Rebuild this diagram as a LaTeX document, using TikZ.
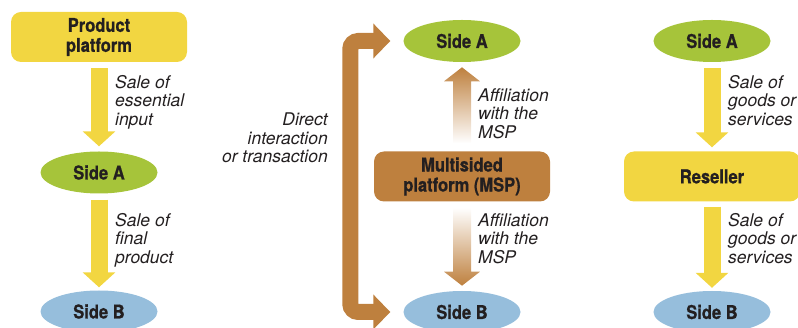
\documentclass[tikz,border=0pt]{standalone}
\usepackage{fontspec}
\setmainfont{TeX Gyre Heros}
\newfontfamily\boldcond{TeX Gyre Heros}[FakeStretch=0.87, BoldFeatures={FakeBold=0.8}]
\usetikzlibrary{arrows.meta,shapes.geometric}
\definecolor{ylw}{HTML}{F2D641}
\definecolor{grn}{HTML}{A6C43A}
\definecolor{blu}{HTML}{96BEDC}
\definecolor{brn}{HTML}{BE803E}
\definecolor{ink}{HTML}{231F20}
\begin{document}
\begin{tikzpicture}[x=1pt,y=-1pt,
  box/.style={rectangle, rounded corners=10pt, fill=ylw, minimum width=176pt, minimum height=50pt, inner sep=0pt, align=center, font=\boldcond\bfseries\fontsize{19}{20}\selectfont, text=ink},
  sidea/.style={ellipse, fill=grn, minimum width=117pt, minimum height=42pt, inner sep=0pt, font=\boldcond\bfseries\fontsize{19}{20}\selectfont, text=ink},
  sideb/.style={sidea, fill=blu},
  lbl/.style={anchor=north west, inner sep=0pt, align=left, font=\itshape\fontsize{17.5}{18.5}\selectfont, text=ink},
  yarrow/.style={draw=ylw, line width=17pt, -{Triangle[width=32pt,length=15pt]}},
  barrow/.style={draw=brn, line width=16pt, rounded corners=8pt, {Triangle[width=34pt,length=17pt]}-{Triangle[width=34pt,length=17pt]}},
]
\useasboundingbox (0,0) rectangle (798,328);
\clip (0,0) rectangle (798,328);

% left column
\node[box] (pp) at (99,37) {Product\\platform};
\node[sidea] (la) at (99,172.5) {Side A};
\node[sideb] (lb) at (99,311.5) {Side B};
\draw[yarrow] ([yshift=-6pt]pp.south) -- ([yshift=5pt]la.north);
\draw[yarrow] ([yshift=-6pt]la.south) -- ([yshift=3pt]lb.north);
\node[lbl] (l1) at (115,75) {Sale of\\essential\\input};
\node[lbl] (l2) at (115,213) {Sale of\\final\\product};

% middle column
\node[sidea] (ma) at (462,41) {Side A};
\node[box, fill=brn] (msp) at (462,176.5) {Multisided\\platform (MSP)};
\node[sideb] (mb) at (462,312) {Side B};
\shade[top color=brn, bottom color=white] ([xshift=-9pt,yshift=8pt]msp.north) -- ++(0,-62) -- ++(-9,0) -- ++(18,-14) -- ++(18,14) -- ++(-9,0) -- ++(0,62) -- cycle;
\shade[top color=white, bottom color=brn] ([xshift=-9pt,yshift=-6pt]msp.south) -- ++(0,64) -- ++(-9,0) -- ++(18,14) -- ++(18,-14) -- ++(-9,0) -- ++(0,-64) -- cycle;
\draw[barrow] ([xshift=-13pt]ma.west) -- ++(-40,0) |- ([xshift=-13pt]mb.west);
\node[lbl, anchor=north east, align=right] (dl) at (328,113) {Direct\\interaction\\or transaction};
\node[lbl] (m1) at (478,88) {Affiliation\\with the\\MSP};
\node[lbl] (m2) at (478,213) {Affiliation\\with the\\MSP};

% right column
\node[sidea] (ra) at (712,41) {Side A};
\node[box] (rs) at (712,176.5) {Reseller};
\node[sideb] (rb) at (712,312) {Side B};
\draw[yarrow] ([yshift=-6pt]ra.south) -- ([yshift=4pt]rs.north);
\draw[yarrow] ([yshift=-5pt]rs.south) -- ([yshift=3pt]rb.north);
\node[lbl] (r1) at (728,75) {Sale of\\goods or\\services};
\node[lbl] (r2) at (728,213) {Sale of\\goods or\\services};
\end{tikzpicture}
\end{document}
